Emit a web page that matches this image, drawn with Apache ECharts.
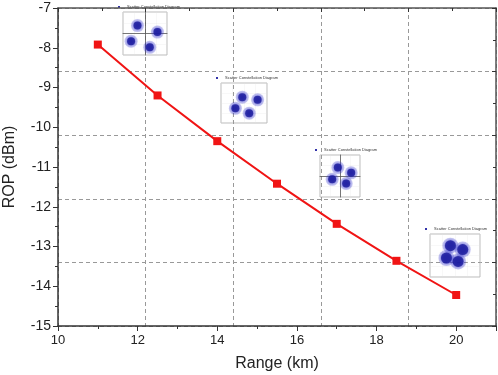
<!DOCTYPE html>
<html>
<head>
<meta charset="utf-8">
<script src="https://cdn.jsdelivr.net/npm/echarts@6/dist/echarts.min.js"></script>
<style>
html, body { margin: 0; padding: 0; background: #fff; }
#main { width: 498px; height: 375px; }
</style>
</head>
<body>
<div id="main"></div>
<script>
// range (km) vs received optical power (dBm)
var rangeKm = [11, 12.5, 14, 15.5, 17, 18.5, 20];
var ropDbm = [-7.92, -9.2, -10.35, -11.42, -12.43, -13.36, -14.22];

// constellation insets: cluster centres, normalised to [-1, 1]
var inset1 = [[-0.41, 0.44], [0.68, 0.08], [-0.76, -0.43], [0.26, -0.77]];
var inset2 = [[-0.09, 0.35], [0.71, 0.19], [-0.45, -0.32], [0.27, -0.61]];
var inset3 = [[-0.13, 0.48], [0.67, 0.18], [-0.47, -0.19], [0.37, -0.43]];
var inset4 = [[-0.22, 0.55], [0.37, 0.33], [-0.41, -0.14], [0.15, -0.33]];

var chart = echarts.init(document.getElementById('main'));

var insetBoxes = [
    {left: 123, top: 12, width: 44, height: 43, cross: true, halo: 13},
    {left: 221, top: 83, width: 46, height: 40, cross: false, halo: 13},
    {left: 320, top: 155, width: 40, height: 42, cross: true, halo: 13},
    {left: 430, top: 234, width: 50, height: 43, cross: false, halo: 16}
];
var insetData = [inset1, inset2, inset3, inset4];

var grids = [{left: 58, top: 8, right: 2, bottom: 49, outerBoundsMode: 'none'}];
var xAxes = [
    {
        type: 'value', gridIndex: 0, position: 'bottom',
        min: 10, max: 21, interval: 2,
        axisLine: {lineStyle: {color: '#333', width: 1.5}},
        axisTick: {length: 5, lineStyle: {color: '#333'}},
        minorTick: {show: true, splitNumber: 2, length: 3, lineStyle: {color: '#333'}},
        splitLine: {show: false},
        axisLabel: {color: '#222', fontSize: 13, fontFamily: 'Liberation Sans', margin: 8, showMaxLabel: false},
        name: 'Range (km)', nameLocation: 'middle', nameGap: 30,
        nameTextStyle: {color: '#222', fontSize: 16, fontFamily: 'Liberation Sans'}
    },
    {
        type: 'value', gridIndex: 0, position: 'top',
        min: 0, max: 11, interval: 2.2,
        axisLine: {lineStyle: {color: '#555', width: 1.5}},
        axisTick: {inside: true, length: 4, lineStyle: {color: '#333'}},
        minorTick: {show: true, splitNumber: 2, length: 3, lineStyle: {color: '#333'}},
        axisLabel: {show: false},
        splitLine: {show: true, lineStyle: {color: '#999', width: 1, type: [4, 3]}}
    }
];
var yAxes = [
    {
        type: 'value', gridIndex: 0, position: 'left',
        min: -15, max: -7, interval: 1,
        axisLine: {lineStyle: {color: '#333', width: 1.5}},
        axisTick: {length: 5, lineStyle: {color: '#333'}},
        minorTick: {show: true, splitNumber: 2, length: 3, lineStyle: {color: '#333'}},
        splitLine: {show: false},
        axisLabel: {color: '#222', fontSize: 14, fontFamily: 'Liberation Sans', margin: 7},
        name: 'ROP (dBm)', nameLocation: 'middle', nameGap: 40,
        nameTextStyle: {color: '#222', fontSize: 16, fontFamily: 'Liberation Sans'}
    },
    {
        type: 'value', gridIndex: 0, position: 'right',
        min: 0, max: 8, interval: 1.6,
        axisLine: {lineStyle: {color: '#555', width: 1.5}},
        axisTick: {inside: true, length: 4, lineStyle: {color: '#333'}},
        minorTick: {show: true, splitNumber: 2, length: 3, lineStyle: {color: '#333'}},
        axisLabel: {show: false},
        splitLine: {show: true, lineStyle: {color: '#999', width: 1, type: [4, 3]}}
    }
];

var series = [
    {
        type: 'line', xAxisIndex: 0, yAxisIndex: 0,
        data: rangeKm.map(function (r, i) { return [r, ropDbm[i]]; }),
        symbol: 'rect', symbolSize: 8,
        itemStyle: {color: '#f01414'},
        lineStyle: {color: '#f01414', width: 2},
        z: 10
    }
];

var graphics = [];

insetBoxes.forEach(function (b, k) {
    var gi = k + 1;      // grid index
    var ai = k + 2;      // axis index (main grid has two x and two y axes)
    grids.push({
        left: b.left, top: b.top, width: b.width, height: b.height, outerBoundsMode: 'none',
        show: true, backgroundColor: '#fff', borderColor: '#bbb', borderWidth: 1
    });
    xAxes.push({
        type: 'value', gridIndex: gi, min: -1.2, max: 1.2, interval: 0.6,
        axisLine: {show: b.cross, onZero: true, lineStyle: {color: '#555', width: 0.8}},
        axisTick: {show: false}, axisLabel: {show: false},
        splitLine: {show: true, lineStyle: {color: '#e2e2e2', width: 0.5, type: 'dotted'}}
    });
    yAxes.push({
        type: 'value', gridIndex: gi, min: -1.2, max: 1.2, interval: 0.6,
        axisLine: {show: b.cross, onZero: true, lineStyle: {color: '#555', width: 0.8}},
        axisTick: {show: false}, axisLabel: {show: false},
        splitLine: {show: true, lineStyle: {color: '#e2e2e2', width: 0.5, type: 'dotted'}}
    });
    series.push({
        type: 'scatter', xAxisIndex: ai, yAxisIndex: ai,
        data: insetData[k], symbolSize: b.halo, silent: true,
        itemStyle: {color: 'rgba(60,60,210,0.35)'}
    });
    series.push({
        type: 'scatter', xAxisIndex: ai, yAxisIndex: ai,
        data: insetData[k], symbolSize: b.halo - 5, silent: true,
        itemStyle: {color: '#1a1a9a', shadowBlur: 3, shadowColor: '#2a2ac8'}
    });
    graphics.push({
        type: 'text', left: b.left + 4, top: b.top - 7,
        style: {text: 'Scatter Constellation Diagram', fontSize: 4, fill: '#333', fontFamily: 'Liberation Sans'}
    });
    graphics.push({
        type: 'rect', shape: {x: b.left - 5, y: b.top - 6, width: 2, height: 2},
        style: {fill: '#3333aa'}
    });
});

var option = {
    animation: false,
    backgroundColor: '#fff',
    grid: grids,
    xAxis: xAxes,
    yAxis: yAxes,
    series: series,
    graphic: graphics
};
chart.setOption(option);
</script>
</body>
</html>
